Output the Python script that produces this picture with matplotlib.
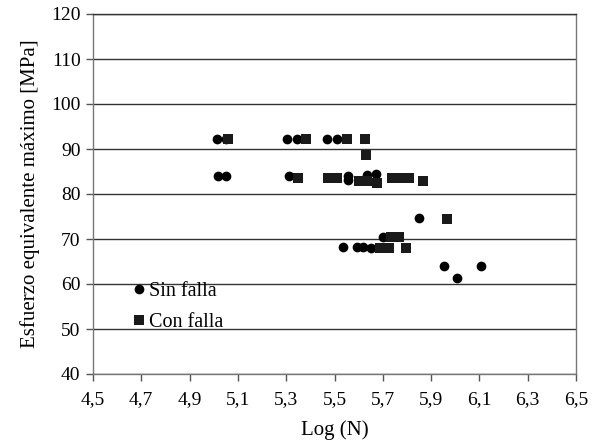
import matplotlib
matplotlib.use("Agg")
import matplotlib.pyplot as plt
from matplotlib.ticker import FuncFormatter

plt.rcParams['font.family'] = ['Liberation Serif', 'DejaVu Serif']

# Sin falla (no failure) - circles
sin_x = [5.012, 5.05, 5.304, 5.343, 5.468, 5.509,
         5.016, 5.051, 5.313, 5.554, 5.554, 5.634, 5.671,
         5.851, 5.70, 5.534, 5.592, 5.619, 5.651,
         5.953, 6.105, 6.006]
sin_y = [92.2, 92.2, 92.2, 92.2, 92.2, 92.2,
         83.9, 83.9, 83.9, 84.0, 83.2, 84.2, 84.5,
         74.6, 70.4, 68.2, 68.2, 68.2, 67.9,
         64.1, 64.1, 61.4]

# Con falla (failure) - squares
con_x = [5.06, 5.384, 5.55, 5.626, 5.632,
         5.35, 5.473, 5.51, 5.603, 5.633, 5.675, 5.739, 5.774, 5.81, 5.865,
         5.965, 5.733, 5.768, 5.688, 5.727, 5.796]
con_y = [92.2, 92.2, 92.2, 92.2, 88.6,
         83.6, 83.6, 83.6, 83.0, 82.8, 82.5, 83.6, 83.6, 83.6, 82.9,
         74.4, 70.4, 70.4, 68.1, 68.1, 68.1]

xticks = [4.5, 4.7, 4.9, 5.1, 5.3, 5.5, 5.7, 5.9, 6.1, 6.3, 6.5]
yticks = [40, 50, 60, 70, 80, 90, 100, 110, 120]

fig = plt.figure(figsize=(5.95, 4.43), dpi=100)
ax = fig.add_axes([93/595, 1-374/443, (576-93)/595, (374-14)/443])

ax.set_xlim(4.5, 6.5)
ax.set_ylim(40, 120)
ax.set_xticks(xticks)
ax.set_yticks(yticks)
ax.xaxis.set_major_formatter(FuncFormatter(lambda v, p: f"{v:.1f}".replace('.', ',')))
ax.yaxis.grid(True, color='#333333', linewidth=1.0)
ax.set_axisbelow(True)

for s in ax.spines.values():
    s.set_color('#777777')
    s.set_linewidth(1.0)
ax.spines['top'].set_color('#333333')

ax.tick_params(axis='both', direction='out', length=5, width=1, color='#555555',
               labelsize=14)
ax.tick_params(axis='x', pad=7)
ax.tick_params(axis='y', pad=4)

ax.plot(sin_x, sin_y, 'o', color='black', markersize=7, linestyle='none', label='Sin falla',
        markeredgewidth=0)
ax.plot(con_x, con_y, 's', color='#1a1a1a', markersize=7.5, linestyle='none', label='Con falla',
        markeredgewidth=0)

ax.set_xlabel('Log (N)', fontsize=15, labelpad=9)
ax.set_ylabel('Esfuerzo equivalente máximo [MPa]', fontsize=15, labelpad=8)

ax.legend(loc='upper left', bbox_to_anchor=(0.075, 0.256), frameon=False, fontsize=14.5,
          handletextpad=0.0, borderpad=0, borderaxespad=0, labelspacing=0.6, handlelength=1.0)

fig.savefig('out.png', dpi=100)
